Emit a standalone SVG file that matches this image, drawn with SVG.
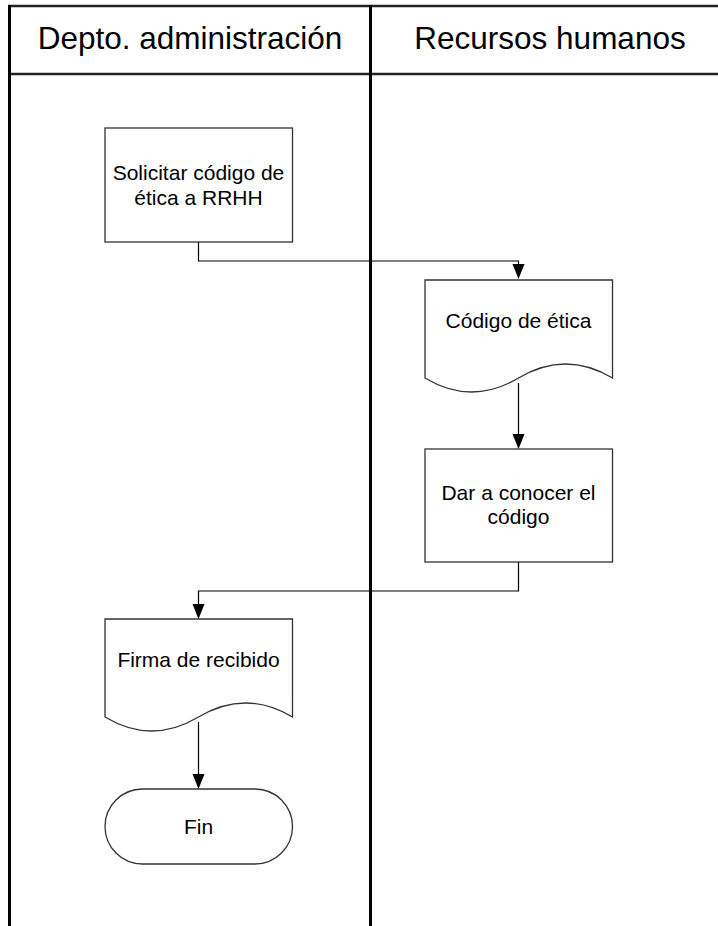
<svg xmlns="http://www.w3.org/2000/svg" width="718" height="926" viewBox="0 0 718 926">
<style>
.lane{stroke:#000;stroke-width:3;fill:none}
.hline{stroke:#222;stroke-width:2.5;fill:none}
.shape{fill:#fff;stroke:#333;stroke-width:1.3}
.conn{stroke:#000;stroke-width:1.2;fill:none}
.arrow{fill:#000;stroke:none}
.hdr{font-family:"Liberation Sans",Arial,sans-serif;font-size:31.5px;fill:#000;text-anchor:middle}
.lbl{font-family:"Liberation Sans",Arial,sans-serif;font-size:21px;fill:#000;text-anchor:middle}
</style>
<rect width="718" height="926" fill="#fff"/>
<g id="lanes">
<line class="hline" x1="8" y1="6" x2="718" y2="6"/>
<line class="hline" x1="8" y1="74" x2="718" y2="74"/>
<line class="lane" x1="9.5" y1="5" x2="9.5" y2="926"/>
<line class="lane" x1="370.5" y1="5" x2="370.5" y2="926"/>
<text class="hdr" x="190" y="49">Depto. administración</text>
<text class="hdr" x="550" y="49">Recursos humanos</text>
</g>
<g id="connectors">
<polyline class="conn" points="198.5,242 198.5,261 518.5,261 518.5,266"/>
<polygon class="arrow" points="512.5,264 524.5,264 518.5,279"/>
<line class="conn" x1="518.5" y1="383" x2="518.5" y2="436"/>
<polygon class="arrow" points="512.5,434 524.5,434 518.5,449"/>
<polyline class="conn" points="518.5,562 518.5,591 198.5,591 198.5,606"/>
<polygon class="arrow" points="192.5,604 204.5,604 198.5,619"/>
<line class="conn" x1="198.5" y1="722" x2="198.5" y2="776"/>
<polygon class="arrow" points="192.5,774 204.5,774 198.5,789"/>
</g>
<g id="n1">
<rect class="shape" x="105" y="128" width="187.5" height="114"/>
<text class="lbl" x="198.5" y="180">Solicitar código de</text>
<text class="lbl" x="198.5" y="205">ética a RRHH</text>
</g>
<g id="n2">
<path class="shape" d="M425,280 H612.5 V378 Q565.5,350 518.5,378 T425,378 Z"/>
<text class="lbl" x="518.5" y="328">Código de ética</text>
</g>
<g id="n3">
<rect class="shape" x="425" y="449" width="187.5" height="113"/>
<text class="lbl" x="518.5" y="500">Dar a conocer el</text>
<text class="lbl" x="518.5" y="524">código</text>
</g>
<g id="n4">
<path class="shape" d="M105,619 H292.5 V717 Q245.5,689 198.5,717 T105,717 Z"/>
<text class="lbl" x="198.5" y="667">Firma de recibido</text>
</g>
<g id="n5">
<rect class="shape" x="105" y="789" width="187.5" height="75" rx="37.5" ry="37.5"/>
<text class="lbl" x="198.5" y="834">Fin</text>
</g>
</svg>
